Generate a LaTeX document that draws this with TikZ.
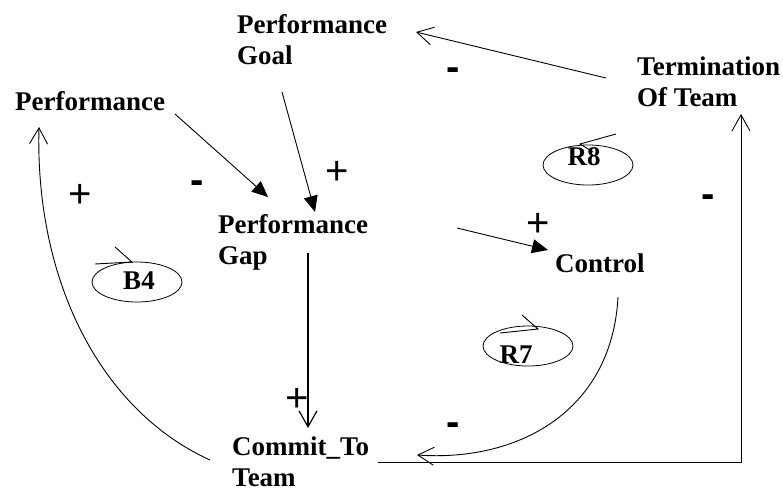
\documentclass[tikz,border=0pt]{standalone}
\usepackage{fontspec}
\setmainfont{Liberation Serif}
\newfontfamily\signfont{Liberation Sans}
\usetikzlibrary{arrows.meta, shapes.geometric}

\begin{document}
\begin{tikzpicture}[x=1pt, y=-1pt,
      varname/.style={anchor=north west, align=left, inner sep=0pt, font=\bfseries\fontsize{27}{31}\selectfont},
      looptag/.style={inner sep=0pt, font=\bfseries\fontsize{27}{31}\selectfont},
      loopring/.style={draw, ellipse, minimum width=90pt, minimum height=40pt, inner sep=0pt, line width=0.8pt},
      plussign/.style={anchor=base, inner sep=0pt, font=\signfont\fontsize{40}{40}\selectfont},
      minussign/.style={anchor=base, inner sep=0pt, font=\signfont\bfseries\fontsize{40}{40}\selectfont},
      linkfill/.style={-{Triangle[length=16pt, width=14pt]}, line width=0.9pt},
      linkopen/.style={-{Straight Barb[length=16pt, width=18pt]}, line width=0.9pt},
      loopmark/.style={line width=0.9pt}
    ]
      \useasboundingbox (0,0) rectangle (783,491);

      \node [varname] (pgoal) at (237,14) {Performance\\Goal};
      \node [varname] (perf) at (15,91) {Performance};
      \node [varname] (term) at (637,57) {Termination\\Of Team};
      \node [varname] (gap) at (218,214) {Performance\\Gap};
      \node [varname] (control) at (555,254) {Control};
      \node [varname] (commit) at (232,437) {Commit\_To\\Team};

      \draw [linkfill] ([shift={(160,23)}]perf.north west) -- ([shift={(50,-17)}]gap.north west);
      \draw [linkfill] ([shift={(45,78)}]pgoal.north west) -- ([shift={(97,-2)}]gap.north west);
      \draw [linkfill] ([shift={(239,14)}]gap.north west) -- ([shift={(-7,-4)}]control.north west);
      \draw [linkopen] ([shift={(-31,21)}]term.north west) -- ([shift={(179,18)}]pgoal.north west);
      \draw [linkopen, line width=1.2pt] ([shift={(90,39)}]gap.north west) -- ([shift={(76,-9)}]commit.north west);
      \draw [linkopen] ([shift={(146,25)}]commit.north west) -| ([shift={(104,57)}]term.north west);
      \draw [linkopen] ([shift={(-22,23)}]commit.north west) .. controls (100,410) and (35,280) .. ([shift={(24,36)}]perf.north west);
      \draw [linkopen] ([shift={(63,43)}]control.north west) .. controls (612,410) and (520,462) .. ([shift={(185,18)}]commit.north west);

      \node [loopring] (r8) at (588,165) {};
      \node [looptag] at ([shift={(-4,-8)}]r8.center) {R8};
      \draw [loopmark] ([shift={(28,-31)}]r8.center) -- ([shift={(-8,-21)}]r8.center) -- ([shift={(5,-13)}]r8.center);
      \node [loopring] (r7) at (528,346) {};
      \node [looptag] at ([shift={(-12,9)}]r7.center) {R7};
      \draw [loopmark] ([shift={(-28,-13)}]r7.center) -- ([shift={(10,-17)}]r7.center) -- ([shift={(-6,-31)}]r7.center);
      \node [loopring] (b4) at (137,282) {};
      \node [looptag] at ([shift={(2,-1)}]b4.center) {B4};
      \draw [loopmark] ([shift={(-42,-18)}]b4.center) -- ([shift={(-5,-20)}]b4.center) -- ([shift={(-22,-35)}]b4.center);

      \node [plussign] at (80,207) {+};
      \node [plussign] at (337,184) {+};
      \node [plussign] at (538,236) {+};
      \node [plussign] at (297,411) {+};
      \node [minussign] at (197,193) {-};
      \node [minussign] at (453,80) {-};
      \node [minussign] at (708,207) {-};
      \node [minussign] at (453,435) {-};
    \end{tikzpicture}
\end{document}
